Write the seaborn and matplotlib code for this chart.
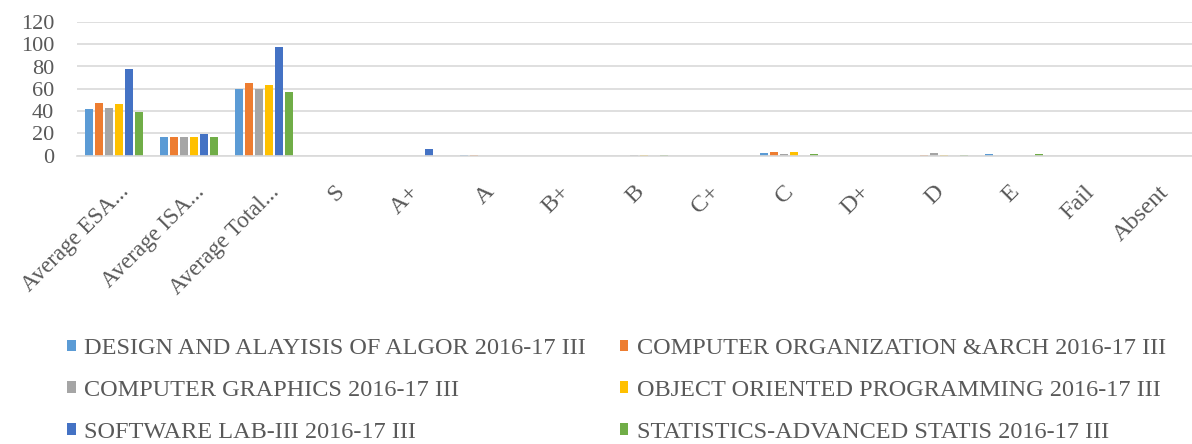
import numpy as np
import pandas as pd
import seaborn as sns
import matplotlib.pyplot as plt
import matplotlib.transforms as mtransforms

categories = ["Average ESA...", "Average ISA...", "Average Total...", "S", "A+", "A", "B+",
              "B", "C+", "C", "D+", "D", "E", "Fail", "Absent"]
series_names = ["DESIGN AND ALAYISIS OF ALGOR 2016-17 III",
                "COMPUTER ORGANIZATION &ARCH 2016-17 III",
                "COMPUTER GRAPHICS 2016-17 III",
                "OBJECT ORIENTED PROGRAMMING 2016-17 III",
                "SOFTWARE LAB-III 2016-17 III",
                "STATISTICS-ADVANCED STATIS 2016-17 III"]
design = [42, 17, 60, 0, 0, 0.5, 0, 0, 0, 2, 0, 0, 1.5, 0, 0]
comp_org = [47, 17, 65, 0, 0, 0.5, 0, 0, 0, 3.3, 0, 0.5, 0, 0, 0]
graphics = [43, 16.6, 60, 0, 0, 0, 0, 0.5, 0, 1.5, 0, 2.4, 0, 0, 0]
oop = [46, 16.6, 63.5, 0, 0, 0, 0, 0.5, 0, 3.3, 0, 0.5, 0, 0, 0]
software = [78, 19, 97.5, 0, 5.4, 0, 0, 0, 0, 0, 0, 0, 0, 0, 0]
stats = [39, 17, 57, 0, 0, 0, 0, 0.5, 0, 1.5, 0, 0.5, 1.5, 0, 0]
colors = ["#5B9BD5", "#ED7D31", "#A5A5A5", "#FFC000", "#4472C4", "#70AD47"]

all_values = [design, comp_org, graphics, oop, software, stats]
rows = []
for name, vals in zip(series_names, all_values):
    for cat, v in zip(categories, vals):
        rows.append({"category": cat, "series": name, "value": v})
df = pd.DataFrame(rows)

sns.set_theme(style="white")
plt.rcParams["font.family"] = ["Liberation Serif", "DejaVu Serif"]
text_color = "#595959"
grid_color = "#D9D9D9"

W, H = 1192, 444
fig = plt.figure(figsize=(W / 100, H / 100), dpi=100)
ax = fig.add_axes([76.5 / W, (H - 155.5) / H, 1125 / W, (155.5 - 22) / H])

sns.barplot(data=df, x="category", y="value", hue="series", order=categories,
            hue_order=series_names, palette=colors, width=0.8, gap=0.2,
            saturation=1, linewidth=0, edgecolor="none", ax=ax)

handles = ax.get_legend().legend_handles
ax.get_legend().remove()

ax.set_ylim(0, 120)
ax.set_yticks(np.arange(0, 121, 20))
ax.yaxis.grid(True, color=grid_color, linewidth=1.2)
ax.set_axisbelow(True)
for s in ["top", "right", "left"]:
    ax.spines[s].set_visible(False)
ax.spines["bottom"].set_color(grid_color)
ax.spines["bottom"].set_linewidth(1.2)
ax.set_xlabel("")
ax.set_ylabel("")
ax.tick_params(axis="both", length=0, labelcolor=text_color)
ax.tick_params(axis="y", pad=16, labelsize=16)
ax.tick_params(axis="x", pad=24, labelsize=17.5)
for lab in ax.get_xticklabels():
    lab.set_rotation(45)
    lab.set_ha("right")
    lab.set_va("center")
    lab.set_rotation_mode("anchor")
    if lab.get_text().endswith("..."):
        lab.set_fontsize(16.5)
        dx = 12
    else:
        dx = 2
    lab.set_transform(lab.get_transform() + mtransforms.ScaledTranslation(dx / 100, 0, fig.dpi_scale_trans))

order = [0, 2, 4, 1, 3, 5]
fig.legend([handles[i] for i in order], [series_names[i] for i in order],
           loc="upper left", bbox_to_anchor=(67 / W, 1 - 338 / H),
           ncol=2, frameon=False, fontsize=17.5, labelcolor=text_color,
           handlelength=0.35, handleheight=0.35, handletextpad=0.35,
           columnspacing=1.4, labelspacing=0.86, borderaxespad=0, borderpad=0)

fig.savefig("out.png", dpi=100)
